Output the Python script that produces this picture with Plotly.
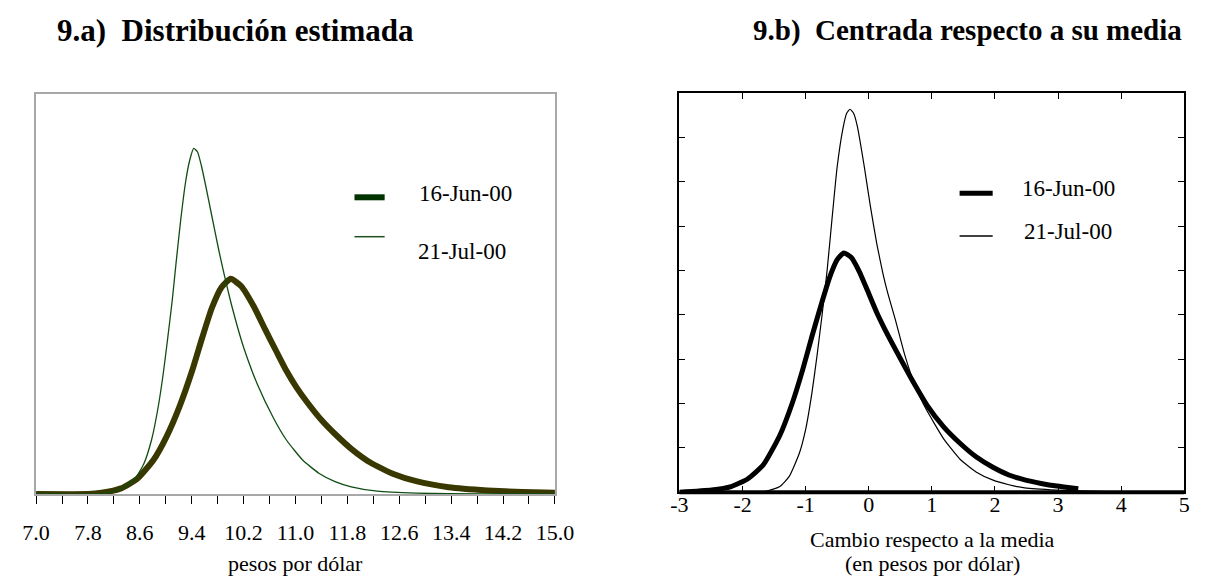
import plotly.graph_objects as go

# ---- 9.a) estimated distribution (pesos por dólar) ----
jun_a_x = [7.0, 7.8, 8.01, 8.31, 8.56, 8.81, 9.01, 9.21, 9.41, 9.56, 9.71, 9.86, 10.0,
           10.16, 10.36, 10.53, 10.71, 10.86, 11.01, 11.2, 11.4, 11.61, 11.86, 12.16,
           12.51, 12.86, 13.36, 13.96, 14.5, 15.0]
jun_a_y = [0.0, 0.0, 0.03, 0.14, 0.38, 0.85, 1.43, 2.18, 3.10, 3.90, 4.65, 5.17, 5.38,
           5.20, 4.68, 4.12, 3.55, 3.08, 2.68, 2.25, 1.85, 1.50, 1.13, 0.78,
           0.50, 0.32, 0.17, 0.09, 0.05, 0.03]

jul_a_x = [7.0, 8.0, 8.26, 8.51, 8.66, 8.78, 8.88, 8.96, 9.03, 9.10, 9.16, 9.23, 9.31,
           9.37, 9.43, 9.49, 9.55, 9.61, 9.71, 9.81, 9.91, 10.01, 10.11, 10.21, 10.41,
           10.66, 10.86, 11.11, 11.36, 11.61, 11.86, 12.26, 12.86, 13.86, 15.0]
jul_a_y = [0.0, 0.01, 0.10, 0.35, 0.75, 1.35, 2.15, 3.0, 3.9, 4.85, 5.8, 6.85, 7.85,
           8.35, 8.64, 8.55, 8.2, 7.75, 6.95, 6.15, 5.42, 4.75, 4.15, 3.62, 2.75,
           1.90, 1.35, 0.85, 0.52, 0.31, 0.18, 0.07, 0.02, 0.0, 0.0]

# ---- 9.b) centred on its mean ----
jun_b_x = [-3.0, -2.49, -2.18, -1.92, -1.67, -1.41, -1.21, -1.05, -0.90, -0.74, -0.62,
           -0.50, -0.395, -0.28, -0.15, -0.02, 0.128, 0.30, 0.45, 0.68, 0.93, 1.19,
           1.45, 1.70, 1.96, 2.22, 2.47, 2.73, 2.98, 3.32]
jun_b_y = [0.0, 0.05, 0.13, 0.30, 0.62, 1.28, 2.02, 2.75, 3.52, 4.30, 4.85,
           5.25, 5.40, 5.30, 4.98, 4.55, 4.05, 3.55, 3.15, 2.55, 1.95, 1.47,
           1.10, 0.80, 0.57, 0.39, 0.28, 0.20, 0.14, 0.08]

jul_b_x = [-3.0, -1.8, -1.62, -1.41, -1.26, -1.10, -1.0, -0.90, -0.82, -0.74, -0.66,
           -0.58, -0.50, -0.41, -0.35, -0.297, -0.24, -0.18, -0.077, 0.026, 0.128,
           0.23, 0.30, 0.42, 0.57, 0.73, 0.88, 1.04, 1.19, 1.45, 1.70, 1.96, 2.22,
           2.47, 2.98, 3.6, 4.3]
jul_b_y = [0.0, 0.0, 0.03, 0.13, 0.36, 0.88, 1.42, 2.25, 3.08, 4.0, 5.0,
           6.2, 7.35, 8.2, 8.55, 8.64, 8.55, 8.25, 7.4, 6.45, 5.6,
           4.9, 4.5, 3.9, 3.1, 2.42, 1.95, 1.55, 1.2, 0.74, 0.46, 0.28, 0.17,
           0.10, 0.05, 0.02, 0.0]

series_names = ["16-Jun-00", "21-Jul-00"]
left_ticks = [7.0, 7.8, 8.6, 9.4, 10.2, 11.0, 11.8, 12.6, 13.4, 14.2, 15.0]
right_ticks = [-3, -2, -1, 0, 1, 2, 3, 4, 5]

W, H = 1215, 577
FONT = "Liberation Serif, Times New Roman, serif"


def fx(p):
    return p / W


def fy(p):
    return 1 - p / H


fig = go.Figure()

line_kw = dict(shape="spline", smoothing=0.5)

# left panel
fig.add_trace(go.Scatter(x=jun_a_x, y=jun_a_y, mode="lines", xaxis="x", yaxis="y",
                         line=dict(color="#383800", width=6, **line_kw),
                         showlegend=False, hoverinfo="skip"))
fig.add_trace(go.Scatter(x=jul_a_x, y=jul_a_y, mode="lines", xaxis="x", yaxis="y",
                         line=dict(color="#0f4d12", width=1.3, **line_kw),
                         showlegend=False, hoverinfo="skip"))
# right panel
fig.add_trace(go.Scatter(x=jun_b_x, y=jun_b_y, mode="lines", xaxis="x2", yaxis="y2",
                         line=dict(color="black", width=5, **line_kw),
                         showlegend=False, hoverinfo="skip"))
fig.add_trace(go.Scatter(x=jul_b_x, y=jul_b_y, mode="lines", xaxis="x2", yaxis="y2",
                         line=dict(color="black", width=1.2, **line_kw),
                         showlegend=False, hoverinfo="skip"))

tick_font = dict(family=FONT, size=22, color="black")

fig.update_layout(
    width=W, height=H,
    margin=dict(l=0, r=0, t=0, b=0),
    paper_bgcolor="white", plot_bgcolor="white",
    font=dict(family=FONT, color="black"),
    xaxis=dict(domain=[fx(22.7), fx(556)], range=[7, 15],
               tickmode="array", tickvals=left_ticks,
               ticktext=[f"{v:.1f}" for v in left_ticks],
               ticks="outside", ticklen=8, tickwidth=1, tickcolor="black",
               minor=dict(dtick=0.4, tick0=7, ticks="outside", ticklen=8,
                          tickwidth=1, tickcolor="black"),
               showline=True, linecolor="#a8a8a8", linewidth=2, mirror=True,
               showgrid=False, zeroline=False, tickfont=tick_font,
               ticklabelstandoff=10),
    yaxis=dict(domain=[fy(494), fy(94)], range=[0, 10],
               showticklabels=False, ticks="",
               showline=True, linecolor="#a8a8a8", linewidth=2, mirror=True,
               showgrid=False, zeroline=False),
    xaxis2=dict(domain=[fx(684), fx(1203)], range=[-3, 5], anchor="y2",
                tickmode="array", tickvals=right_ticks,
                ticktext=[str(v) for v in right_ticks],
                ticks="inside", ticklen=6, tickwidth=1, tickcolor="black",
                showline=True, linecolor="black", linewidth=2, mirror="ticks",
                showgrid=False, zeroline=False, tickfont=tick_font,
                ticklabelstandoff=-9),
    yaxis2=dict(domain=[fy(492.3), fy(93.3)], range=[0, 9], anchor="x2",
                tickmode="linear", tick0=0, dtick=1,
                showticklabels=False, ticks="inside", ticklen=6, tickwidth=1,
                tickcolor="black",
                showline=True, linecolor="black", linewidth=2, mirror="ticks",
                showgrid=False, zeroline=False),
)

shapes = [
    # heavier base line of the right panel
    dict(type="line", xref="x2 domain", yref="y2 domain", x0=0, x1=1, y0=0, y1=0,
         line=dict(color="black", width=4)),
    # legend samples, left panel
    dict(type="line", xref="paper", yref="paper", x0=fx(350), x1=fx(381),
         y0=fy(197.3), y1=fy(197.3), line=dict(color="#003300", width=6)),
    dict(type="line", xref="paper", yref="paper", x0=fx(350), x1=fx(381),
         y0=fy(236.7), y1=fy(236.7), line=dict(color="#1f4f1f", width=1.5)),
    # legend samples, right panel
    dict(type="line", xref="paper", yref="paper", x0=fx(972), x1=fx(1006),
         y0=fy(193.3), y1=fy(193.3), line=dict(color="black", width=5)),
    dict(type="line", xref="paper", yref="paper", x0=fx(972), x1=fx(1006),
         y0=fy(236), y1=fy(236), line=dict(color="black", width=1.3)),
]
fig.update_layout(shapes=shapes)


def label(text, x, y, size=22, bold=False, anchor="left"):
    t = f"<b>{text}</b>" if bold else text
    fig.add_annotation(text=t, x=fx(x), y=fy(y), xref="paper", yref="paper",
                       xanchor=anchor, yanchor="middle", showarrow=False,
                       font=dict(family=FONT, size=size, color="black"))


label("9.a)\u00a0\u00a0Distribución estimada", 42, 30, size=31, bold=True)
label("9.b)\u00a0\u00a0Centrada respecto a su media", 758, 30, size=29, bold=True)

label(series_names[0], 414, 193, size=23)
label(series_names[1], 413, 251, size=23)
label(series_names[0], 1034, 188, size=23)
label(series_names[1], 1036, 232, size=23)

label("pesos por dólar", 289.5, 563, size=22, anchor="center")
label("Cambio respecto a la media", 944, 539, size=22, anchor="center")
label("(en pesos por dólar)", 944, 563, size=22, anchor="center")

fig.write_html("out.html")
